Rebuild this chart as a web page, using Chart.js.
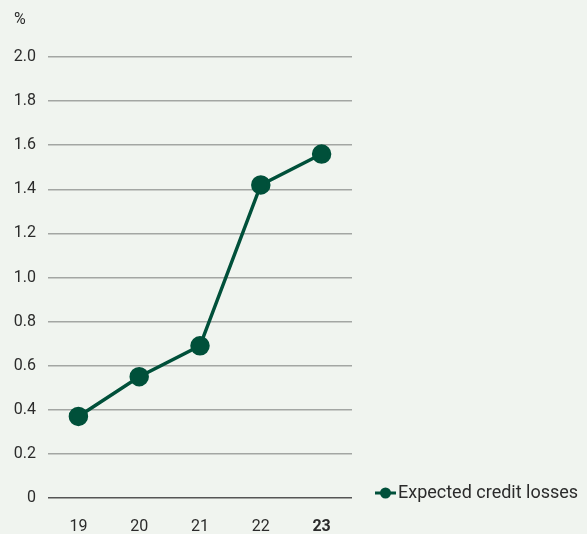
<!DOCTYPE html>
<html>
<head>
<meta charset="utf-8">
<script src="https://cdn.jsdelivr.net/npm/chart.js@4/dist/chart.umd.min.js"></script>
<style>
  html, body { margin: 0; padding: 0; background: #f0f4ef; }
  #wrap { width: 587px; height: 534px; position: relative; }
</style>
</head>
<body>
<div id="wrap"><canvas id="myChart" width="587" height="534"></canvas></div>
<script>
const years = ['19', '20', '21', '22', '23'];
const creditLosses = [0.37, 0.55, 0.69, 1.42, 1.56];
const seriesName = 'Expected credit losses';
const unitLabel = '%';

const green = '#00503a';
const textColor = '#2b2b2b';
const fontFamily = 'Roboto, "Liberation Sans", sans-serif';

// draws the % label and the legend at the bottom right
const extras = {
    id: 'extras',
    afterDraw(chart) {
        const c = chart.ctx;
        c.save();
        c.fillStyle = textColor;
        c.font = '16px ' + fontFamily;
        c.textBaseline = 'middle';
        c.textAlign = 'left';
        c.fillText(unitLabel, 14, 20);

        const y = chart.chartArea.bottom - 5;
        c.strokeStyle = green;
        c.lineWidth = 3;
        c.beginPath();
        c.moveTo(375, y);
        c.lineTo(396, y);
        c.stroke();
        c.fillStyle = green;
        c.beginPath();
        c.arc(385.5, y, 5.5, 0, Math.PI * 2);
        c.fill();
        c.fillStyle = textColor;
        c.font = '18px ' + fontFamily;
        c.fillText(seriesName, 398, y);
        c.restore();
    }
};

const ctx = document.getElementById('myChart').getContext('2d');
const myChart = new Chart(ctx, {
    type: 'line',
    data: {
        labels: years,
        datasets: [{
            label: seriesName,
            data: creditLosses,
            borderColor: green,
            backgroundColor: green,
            borderWidth: 3.5,
            pointRadius: 8,
            pointHoverRadius: 8,
            tension: 0
        }]
    },
    options: {
        responsive: false,
        animation: false,
        layout: { padding: { top: 57, right: 235, left: 0, bottom: 0 } },
        plugins: {
            legend: { display: false },
            tooltip: { enabled: false }
        },
        scales: {
            x: {
                offset: true,
                grid: { display: false },
                border: { display: false },
                ticks: {
                    color: textColor,
                    padding: 11,
                    font: (c) => ({ family: fontFamily, size: 16, weight: c.index === 4 ? 'bold' : 'normal' })
                },
                afterFit: (scale) => { scale.height = 36; }
            },
            y: {
                min: 0,
                max: 2,
                border: { display: false },
                grid: {
                    drawTicks: false,
                    lineWidth: 1.5,
                    color: (c) => c.tick && c.tick.value === 0 ? '#555555' : '#a3a6a3'
                },
                ticks: {
                    stepSize: 0.2,
                    padding: 12,
                    color: textColor,
                    font: { family: fontFamily, size: 16 },
                    callback: (v) => v === 0 ? '0' : v.toFixed(1)
                },
                afterFit: (scale) => { scale.width = 48; }
            }
        }
    },
    plugins: [extras]
});
</script>
</body>
</html>
